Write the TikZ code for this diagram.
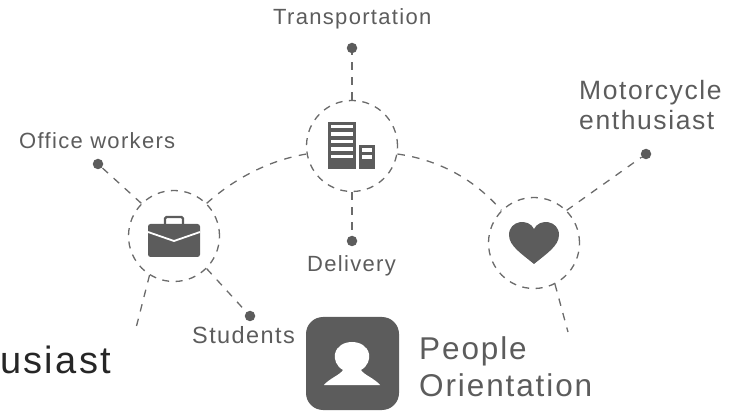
\documentclass[tikz,border=0pt]{standalone}
\usepackage{fontspec}
\setmainfont{Liberation Sans}
\newfontfamily\spaced[LetterSpace=6]{Liberation Sans}
\definecolor{ink}{gray}{0.36}
\definecolor{lineink}{gray}{0.42}
\tikzset{
  x=1pt,y=-1pt,
  hub/.style={circle,draw=lineink,line width=1.3pt,dash pattern=on 7pt off 6.5pt,minimum size=91pt,inner sep=0pt},
  dot/.style={circle,fill=ink,minimum size=10.5pt,inner sep=0pt},
  link/.style={draw=lineink,line width=1.3pt,dash pattern=on 7.5pt off 7.5pt},
  lab/.style={text=ink,inner sep=0pt,font=\spaced\fontsize{22}{26}\selectfont,align=left},
  big/.style={text=ink,inner sep=0pt,font=\spaced\fontsize{31.5}{37}\selectfont,align=left},
  glyph/.style={fill=ink,draw=none}
}
\begin{document}
\begin{tikzpicture}
\useasboundingbox (0,0) rectangle (737,414);
\node[hub] (left) at (174,236) {};
\node[hub] (mid) at (352,146) {};
\node[hub] (right) at (534,243) {};
\node[dot] (dtrans) at (352,48) {};
\node[dot] (ddeliv) at (352,241) {};
\node[dot] (doffice) at (98,164) {};
\node[dot] (dstud) at (250,316) {};
\node[dot] (dmoto) at (646,154) {};
\coordinate (endl) at (136,328);
\coordinate (endr) at (568,332);
\node[lab,anchor=west] (ttrans) at (273,19) {Transportation};
\node[lab,anchor=west] (tdeliv) at (307,266) {Delivery};
\node[lab,anchor=west] (toffice) at (19,141) {Office workers};
\node[lab,anchor=west,font=\spaced\fontsize{23.5}{26}\selectfont] (tstud) at (192,335) {Students};
\node[text=ink,inner sep=0pt,anchor=west,align=left,font=\spaced\fontsize{26.5}{30}\selectfont] (tmoto) at (579,105) {Motorcycle\\enthusiast};
\node[big,anchor=west] (tpeople) at (419,367) {People\\Orientation};
\node[anchor=west,inner sep=0pt,text=black!85,font=\spaced\fontsize{38}{42}\selectfont] (tcut) at (0,360) {usiast};
\draw[link] (mid.north) -- (dtrans);
\draw[link] (mid.south) -- (ddeliv);
\draw[link] (left.135) -- (doffice);
\draw[link] (left.-45) -- (dstud);
\draw[link] (right.45) -- (dmoto);
\draw[link] (left.-122) -- (endl);
\draw[link] (right.-63) -- (endr);
\draw[link] (left.45) .. controls (235,178) and (270,160) .. (mid.190);
\draw[link] (mid.-10) .. controls (440,160) and (475,180) .. (right.135);
% briefcase
\fill[glyph,rounded corners=2.5pt] (148,224) rectangle (200,257);
\draw[ink,line width=2.2pt,rounded corners=1.5pt] (165,224) -- (165,217) -- (183,217) -- (183,224);
\draw[white,line width=1.8pt] (148,232) -- (174,241) -- (200,232);
% building
\fill[glyph] (328,122) rectangle (356,169);
\fill[glyph] (359,145) rectangle (375,169);
\foreach \yy in {125,132.5,140,147.5,155}{\fill[white] (331,\yy) rectangle (353,\yy+3.4);}
\foreach \yy in {148.5,155.5}{\fill[white] (362,\yy) rectangle (372,\yy+3.4);}
% heart
\fill[glyph] (534,264) .. controls (522,254) and (509,246) .. (509,235) .. controls (509,220) and (529,218) .. (534,229) .. controls (539,218) and (559,220) .. (559,235) .. controls (559,246) and (546,254) .. (534,264) -- cycle;
% person tile
\fill[glyph,rounded corners=17pt] (306,317) rectangle (399,410);
\fill[white] (324,385) .. controls (330,378) and (340,375) .. (343,370) .. controls (336,366) and (334,359) .. (335,354) .. controls (338,338) and (366,338) .. (369,354) .. controls (370,359) and (368,366) .. (361,370) .. controls (364,375) and (374,378) .. (380,385) -- cycle;
\end{tikzpicture}
\end{document}
